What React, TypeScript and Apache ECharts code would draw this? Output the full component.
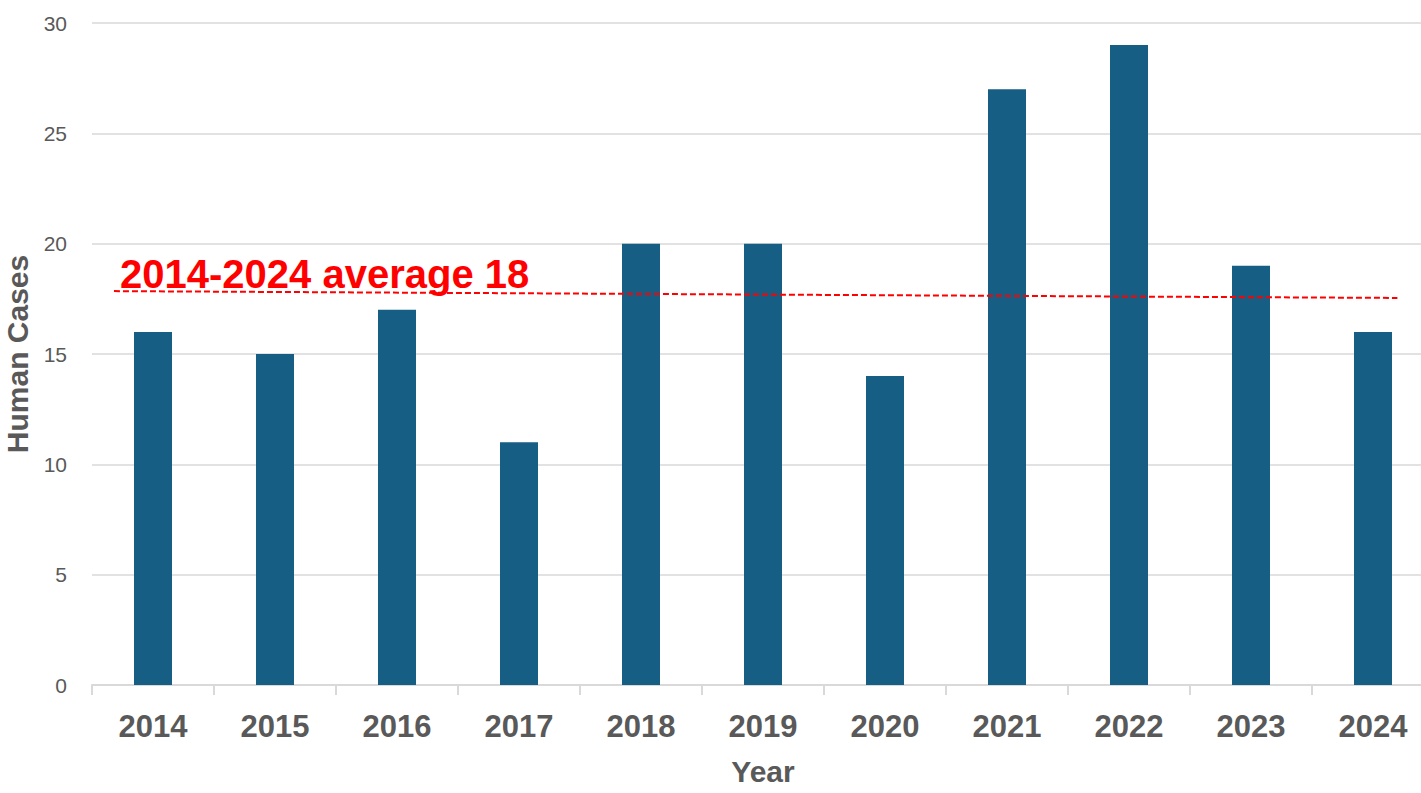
import React, { useEffect, useRef } from "react";
import * as echarts from "echarts";

const years = ["2014", "2015", "2016", "2017", "2018", "2019", "2020", "2021", "2022", "2023", "2024"];
const humanCases = [16, 15, 17, 11, 20, 20, 14, 27, 29, 19, 16];
const averageLine: [number, number][] = [
  [-0.32, 17.85],
  [10.2, 17.54],
];
const averageLabel = "2014-2024 average 18";

export default function App() {
  const ref = useRef<HTMLDivElement>(null);
  useEffect(() => {
    if (!ref.current) return;
    const chart = echarts.init(ref.current, null, { renderer: "svg" });
    const grey = "#595959";
    const font = "Liberation Sans, Arial, sans-serif";
    chart.setOption({
      animation: false,
      backgroundColor: "#ffffff",
      textStyle: { fontFamily: font },
      grid: { left: 92, right: -13, top: 23, bottom: 108, containLabel: false, outerBoundsMode: "none" },
      xAxis: [
        {
          type: "category",
          data: years,
          axisLine: { lineStyle: { color: "#d9d9d9", width: 2 } },
          axisTick: { show: true, length: 10, lineStyle: { color: "#d9d9d9", width: 2 } },
          axisLabel: { color: grey, fontSize: 31, fontWeight: "bold", margin: 26, fontFamily: font },
          name: "Year",
          nameLocation: "middle",
          nameGap: 71,
          nameTextStyle: { color: grey, fontSize: 30, fontWeight: "bold", fontFamily: font },
        },
        { type: "value", min: -0.5, max: 10.5, show: false },
      ],
      yAxis: {
        type: "value",
        min: 0,
        max: 30,
        interval: 5,
        axisLine: { show: false },
        axisTick: { show: false },
        axisLabel: { color: grey, fontSize: 21, margin: 25, fontFamily: font },
        splitLine: { lineStyle: { color: "#d9d9d9", width: 1.5 } },
        name: "Human Cases",
        nameLocation: "middle",
        nameGap: 58,
        nameTextStyle: { color: grey, fontSize: 30, fontWeight: "bold", fontFamily: font },
      },
      series: [
        {
          type: "bar",
          data: humanCases,
          barWidth: 38,
          itemStyle: { color: "#165E83" },
        },
        {
          type: "line",
          xAxisIndex: 1,
          data: averageLine,
          symbol: "none",
          lineStyle: { color: "#ff0000", width: 2, type: [6, 3] },
          z: 5,
        },
      ],
      graphic: [
        {
          type: "text",
          left: 120,
          top: 254,
          style: {
            text: averageLabel,
            fill: "#ff0000",
            fontSize: 40,
            fontWeight: "bold",
            fontFamily: font,
          },
        },
      ],
    });
    return () => chart.dispose();
  }, []);
  return <div ref={ref} style={{ position: "absolute", left: 0, top: 0, width: 1421, height: 793 }} />;
}
